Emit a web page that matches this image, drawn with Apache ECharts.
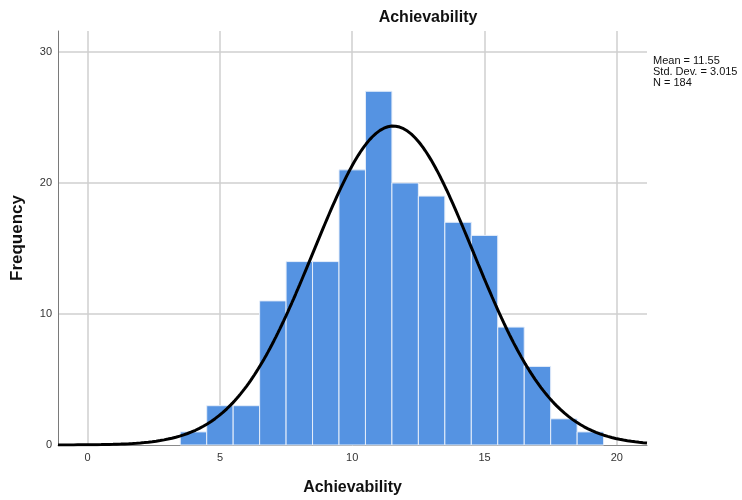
<!DOCTYPE html>
<html>
<head>
<meta charset="utf-8">
<script src="https://cdn.jsdelivr.net/npm/echarts@6/dist/echarts.min.js"></script>
<style>
  html, body { margin: 0; padding: 0; background: #fff; }
  #chart { width: 742px; height: 500px; }
</style>
</head>
<body>
<div id="chart"></div>
<script>
// Histogram bins (lower edge, upper edge) and counts
const binLower = [3.5, 4.5, 5.5, 6.5, 7.5, 8.5, 9.5, 10.5, 11.5, 12.5, 13.5, 14.5, 15.5, 16.5, 17.5, 18.5];
const binUpper = [4.5, 5.5, 6.5, 7.5, 8.5, 9.5, 10.5, 11.5, 12.5, 13.5, 14.5, 15.5, 16.5, 17.5, 18.5, 19.5];
const counts   = [1, 3, 3, 11, 14, 14, 21, 27, 20, 19, 17, 16, 9, 6, 2, 1];

// Summary statistics shown beside the plot
const meanValue = 11.55;
const stdDev = 3.015;
const sampleSize = 184;
const binWidth = 1;

// Axis tick values
const xTicks = [0, 5, 10, 15, 20];
const yTicks = [0, 10, 20, 30];
const yGrid = [10, 20, 30];

const xMin = -1.12, xMax = 21.14;
const yMax = 31.6;

// Fitted normal curve scaled to counts
const curve = [];
const steps = 300;
for (let i = 0; i <= steps; i++) {
  const x = xMin + (xMax - xMin) * i / steps;
  const z = (x - meanValue) / stdDev;
  const y = sampleSize * binWidth * Math.exp(-0.5 * z * z) / (stdDev * Math.sqrt(2 * Math.PI));
  curve.push([x, y]);
}

const barData = counts.map((c, i) => [binLower[i], binUpper[i], c]);

const chart = echarts.init(document.getElementById('chart'), null, { renderer: 'canvas' });
const font = '"Liberation Sans", Arial, sans-serif';
const gridColor = '#cfcfcf';

chart.setOption({
  animation: false,
  textStyle: { fontFamily: font },
  graphic: [
    {
      type: 'text',
      x: 428,
      y: 10,
      style: {
        text: 'Achievability',
        font: 'bold 16px ' + font,
        fill: '#111',
        textAlign: 'center'
      }
    },
    {
      type: 'text',
      x: 653,
      y: 55,
      style: {
        text: 'Mean = ' + meanValue + '\nStd. Dev. = ' + stdDev + '\nN = ' + sampleSize,
        font: '11px ' + font,
        fill: '#111',
        lineHeight: 11
      }
    }
  ],
  grid: { left: 58, right: 95, top: 31, bottom: 55, containLabel: false, outerBoundsMode: 'none' },
  xAxis: {
    type: 'value',
    min: xMin,
    max: xMax,
    name: 'Achievability',
    nameLocation: 'middle',
    nameGap: 35,
    nameTextStyle: { fontSize: 16, fontWeight: 'bold', color: '#111', fontFamily: font },
    axisLine: { show: true, onZero: false, lineStyle: { color: '#8a8a8a', width: 1 } },
    axisTick: { show: false },
    splitLine: { show: false },
    axisLabel: {
      customValues: xTicks,
      color: '#333',
      fontSize: 11,
      margin: 7,
      fontFamily: font
    }
  },
  yAxis: {
    type: 'value',
    min: 0,
    max: yMax,
    name: 'Frequency',
    nameLocation: 'middle',
    nameGap: 32,
    nameTextStyle: { fontSize: 17, fontWeight: 'bold', color: '#111', fontFamily: font },
    axisLine: { show: true, onZero: false, lineStyle: { color: '#7a7a7a', width: 1 } },
    axisTick: { show: false },
    splitLine: { show: false },
    axisLabel: {
      customValues: yTicks,
      color: '#333',
      fontSize: 11,
      margin: 6,
      fontFamily: font
    }
  },
  series: [
    {
      // grid lines at the tick positions, kept behind the bars
      type: 'line',
      data: [],
      z: 0,
      silent: true,
      markLine: {
        z: 0,
        silent: true,
        symbol: ['none', 'none'],
        label: { show: false },
        lineStyle: { type: 'solid', color: gridColor, width: 1.5 },
        data: xTicks.map(v => ({ xAxis: v })).concat(yGrid.map(v => ({ yAxis: v })))
      }
    },
    {
      type: 'custom',
      z: 2,
      data: barData,
      encode: { x: [0, 1], y: 2 },
      renderItem: function (params, api) {
        const p0 = api.coord([api.value(0), 0]);
        const p1 = api.coord([api.value(1), api.value(2)]);
        return {
          type: 'rect',
          shape: { x: p0[0], y: p1[1], width: p1[0] - p0[0], height: p0[1] - p1[1] },
          style: { fill: '#5593e2', stroke: '#e6eefa', lineWidth: 1 }
        };
      }
    },
    {
      type: 'line',
      z: 3,
      data: curve,
      showSymbol: false,
      smooth: false,
      lineStyle: { color: '#000', width: 3 },
      silent: true
    }
  ]
});
</script>
</body>
</html>
